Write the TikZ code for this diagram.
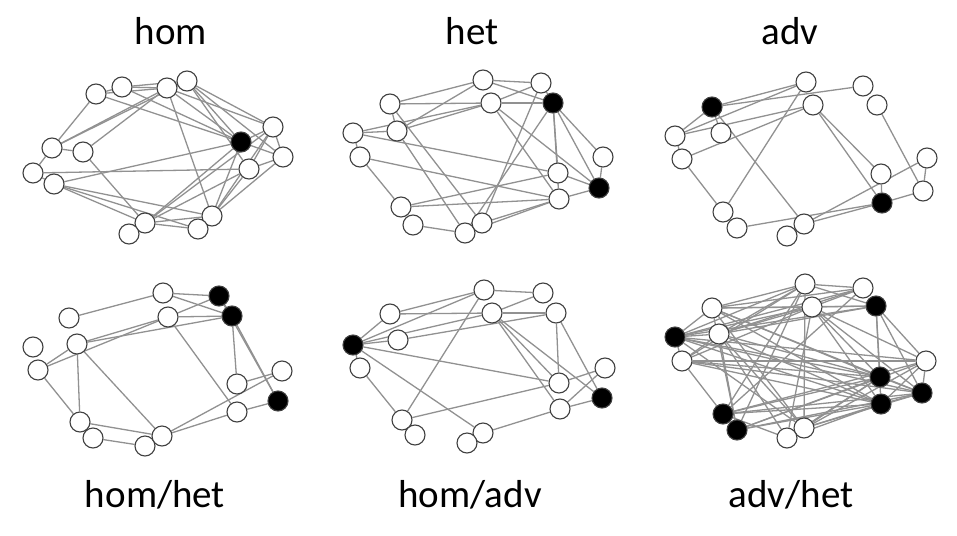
\documentclass[tikz,border=0pt]{standalone}
\usepackage{fontspec}
\setmainfont{Carlito}
\usetikzlibrary{backgrounds}
\definecolor{edgegray}{RGB}{145,145,145}
\tikzset{
  vtx/.style={circle, draw=black!75, line width=1.1pt, fill=white, minimum size=20pt, inner sep=0pt},
  hub/.style={vtx, fill=black},
  link/.style={draw=edgegray, line width=1.3pt},
  title/.style={anchor=base, font=\fontsize{39}{42}\selectfont}
}
\begin{document}
\begin{tikzpicture}[x=1pt, y=-1pt]
    \useasboundingbox (0,0) rectangle (957,535);
    % titles
    \node[title] (t-hom) at (171,45) {hom};
    \node[title] (t-het) at (472,45) {het};
    \node[title] (t-adv) at (790,45) {adv};
    \node[title] (t-homhet) at (155,507) {hom/het};
    \node[title] (t-homadv) at (470,507) {hom/adv};
    \node[title] (t-advhet) at (791,507) {adv/het};

    % hom
    \foreach \n/\x/\y in {a/96/94, b/122/87, c/167/88, d/187/81, e/273/127, g/283/157, h/249/169, i/52/148, j/83/152, k/33/173, l/54/184, m/145/223, n/129/234, o/212/216, p/198/229}
        \node[vtx] (hom-\n) at (\x,\y) {};
    \node[hub] (hom-f) at (241,142) {};
    \begin{scope}[on background layer]
        \foreach \u/\v in {a/b, a/i, a/c, b/c, b/d, b/f, a/f, i/c, i/d, j/c, j/m, i/j, i/k, k/l, k/h, l/f, l/m, l/o, l/p, c/o, c/f, d/e, d/f, d/g, d/h, c/e, m/f, m/e, m/h, o/e, o/f, o/h, o/g, m/o, m/p, m/n, p/o, e/g, f/g, h/g, e/f, h/e}
            \draw[link] (hom-\u) -- (hom-\v);
    \end{scope}

    % het
    \foreach \n/\x/\y in {a/483/80, b/541/83, d/491/103, e/390/104, f/397/131, g/353/133, h/360/157, i/603/157, j/558/173, l/559/199, m/401/207, n/413/225, o/465/233, p/482/223}
        \node[vtx] (het-\n) at (\x,\y) {};
    \node[hub] (het-c) at (553,103) {};
    \node[hub] (het-k) at (599,188) {};
    \begin{scope}[on background layer]
        \foreach \u/\v in {e/a, e/d, g/d, f/d, g/f, e/f, g/h, a/b, a/c, d/c, b/c, d/b, b/p, c/o, c/i, c/k, c/l, c/j, d/k, d/l, g/j, h/l, f/o, e/p, h/m, m/j, m/l, n/o, p/l, o/l, i/k, j/k, l/k, m/n, f/a}
            \draw[link] (het-\u) -- (het-\v);
    \end{scope}

    % adv
    \foreach \n/\x/\y in {a/806/82, b/863/86, c/877/105, e/813/105, f/675/136, g/721/133, h/682/159, i/927/158, j/881/174, l/923/191, m/723/212, n/737/228, o/804/224, p/787/236}
        \node[vtx] (adv-\n) at (\x,\y) {};
    \node[hub] (adv-d) at (712,107) {};
    \node[hub] (adv-k) at (882,203) {};
    \begin{scope}[on background layer]
        \foreach \u/\v in {d/a, d/b, f/a, f/e, h/e, f/d, g/d, d/o, a/m, e/j, e/k, c/l, h/m, n/k, o/k, o/i, k/l, i/l, j/k, f/h}
            \draw[link] (adv-\u) -- (adv-\v);
    \end{scope}

    % hom/het
    \foreach \n/\x/\y in {a/163/293, d/168/317, e/69/318, f/77/344, g/33/347, h/38/370, i/282/371, j/237/384, l/237/412, m/80/422, n/93/438, o/145/446, p/162/436}
        \node[vtx] (hh-\n) at (\x,\y) {};
    \node[hub] (hh-b) at (219,296) {};
    \node[hub] (hh-c) at (232,316) {};
    \node[hub] (hh-k) at (278,401) {};
    \begin{scope}[on background layer]
        \foreach \u/\v in {e/a, f/d, h/f, h/d, f/c, a/b, a/c, d/c, d/b, b/c, c/j, c/k, b/k, d/l, f/m, f/p, h/m, m/p, m/n, n/o, p/l, p/i, l/k, j/i}
            \draw[link] (hh-\u) -- (hh-\v);
    \end{scope}

    % hom/adv
    \foreach \n/\x/\y in {a/484/290, b/543/293, c/556/313, d/492/313, e/390/314, g/398/340, h/360/368, i/605/368, j/559/383, l/560/409, m/402/420, n/415/435, o/483/433, p/467/443}
        \node[vtx] (ha-\n) at (\x,\y) {};
    \node[hub] (ha-f) at (353,345) {};
    \node[hub] (ha-k) at (602,398) {};
    \begin{scope}[on background layer]
        \foreach \u/\v in {e/a, e/d, f/e, f/g, f/d, f/a, f/h, g/c, a/b, d/c, d/b, a/m, d/l, d/j, c/j, c/k, f/j, f/o, h/m, m/j, o/l, l/k, i/l, i/j, d/k}
            \draw[link] (ha-\u) -- (ha-\v);
    \end{scope}

    % adv/het
    \foreach \n/\x/\y in {a/805/284, b/863/288, d/812/307, e/712/308, g/719/334, h/682/361, i/926/361, o/804/428, p/787/438}
        \node[vtx] (ah-\n) at (\x,\y) {};
    \foreach \n/\x/\y in {c/876/306, f/675/337, j/880/377, k/922/393, l/881/404, m/723/414, n/737/430}
        \node[hub] (ah-\n) at (\x,\y) {};
    \begin{scope}[on background layer]
        \foreach \u/\v in {e/a, e/d, e/b, e/c, g/a, g/d, g/c, g/b, f/a, f/d, f/e, f/g, f/h, f/b, f/c, h/d, h/g, h/a, a/b, a/c, d/c, d/b, a/m, a/o, d/j, d/l, d/k, d/i, c/j, c/k, c/l, c/i, b/m, f/j, f/l, f/i, f/k, h/l, h/j, h/k, h/i, g/o, g/p, g/l, e/o, e/l, f/o, h/m, m/j, m/l, m/k, m/i, n/j, n/l, n/k, n/i, o/l, o/k, o/j, p/l, p/i, p/j, i/k, i/l, j/k, l/k, e/n, g/n, m/p, e/k, g/j, a/n, d/p, e/j}
            \draw[link] (ah-\u) -- (ah-\v);
    \end{scope}
\end{tikzpicture}
\end{document}
